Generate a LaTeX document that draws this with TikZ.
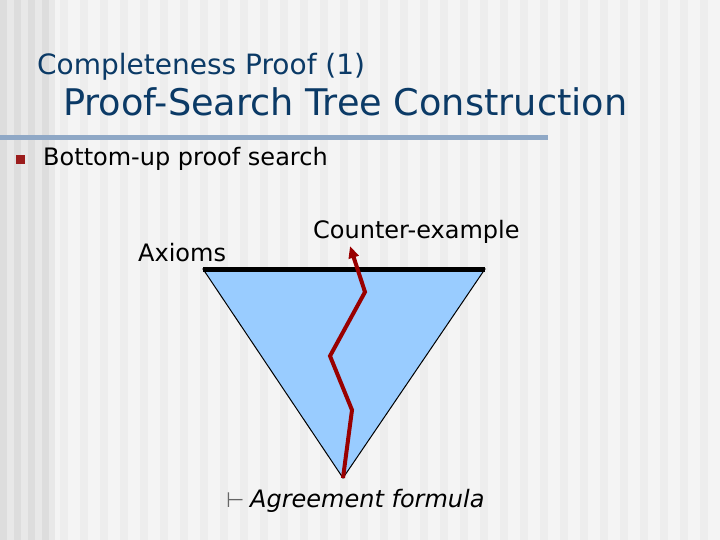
\documentclass[tikz,border=0pt]{standalone}
\usepackage{fontspec}
\setmainfont{DejaVu Sans}
\usetikzlibrary{arrows.meta}
\definecolor{bgA}{HTML}{F4F4F4}
\definecolor{bgB}{HTML}{EDEDED}
\definecolor{bgL}{HTML}{DDDDDD}
\definecolor{bgM}{HTML}{E8E8E8}
\definecolor{titleblue}{HTML}{0B3A66}
\definecolor{rulecol}{HTML}{8FA8C6}
\definecolor{bulletred}{HTML}{9B1C1C}
\definecolor{treeblue}{HTML}{99CCFF}
\definecolor{pathred}{HTML}{990000}
\tikzset{
  txt/.style={inner sep=0pt, anchor=base west, text=black},
  ttl/.style={inner sep=0pt, anchor=base west, text=titleblue},
}
\begin{document}
\begin{tikzpicture}[x=1pt,y=-1pt]
\useasboundingbox (0,0) rectangle (720,540);
% background
\fill[bgA] (0,0) rectangle (720,540);
\foreach \x in {60,80,...,700} { \fill[bgB] (\x,0) rectangle (\x+8,540); }
\fill[bgM] (0,0) rectangle (55,540);
\foreach \x in {0,14,...,42} { \fill[bgL] (\x,0) rectangle (\x+7,540); }
% titles
\node[ttl, font=\fontsize{28}{31}\selectfont] (t1) at (37,75) {Completeness Proof (1)};
\node[ttl, font=\fontsize{36.7}{40}\selectfont] (t2) at (63,116) {Proof-Search Tree Construction};
\fill[rulecol] (0,135) rectangle (548,140);
% bullet
\fill[bulletred] (16,155) rectangle (25,164);
\node[txt, font=\fontsize{24}{28}\selectfont] (b1) at (43,166) {Bottom-up proof search};
% tree
\coordinate (tl) at (203,269);
\coordinate (tr) at (485,269);
\coordinate (bot) at (343,478);
\filldraw[fill=treeblue, draw=black, line width=1pt] (tl) -- (tr) -- (bot) -- cycle;
\draw[line width=5pt] (tl) -- (tr);
\coordinate (p1) at (352,410);
\coordinate (p2) at (330,356);
\coordinate (p3) at (365,292);
\coordinate (p4) at (350,246);
\draw[pathred, line width=4pt, line join=miter, -{Triangle[length=12pt,width=10pt]}] (bot) -- (p1) -- (p2) -- (p3) -- (p4);
\node[txt, font=\fontsize{24}{28}\selectfont] (ax) at (138,261) {Axioms};
\node[txt, font=\fontsize{24}{28}\selectfont] (ce) at (313,238) {Counter-example};
\node[txt, font=\fontsize{21}{24}\selectfont, text=black!60] (tu) at (226,507) {⊢};
\node[txt, font=\fontsize{24}{28}\selectfont\itshape] (ag) at (250,507) {Agreement formula};
\end{tikzpicture}
\end{document}
